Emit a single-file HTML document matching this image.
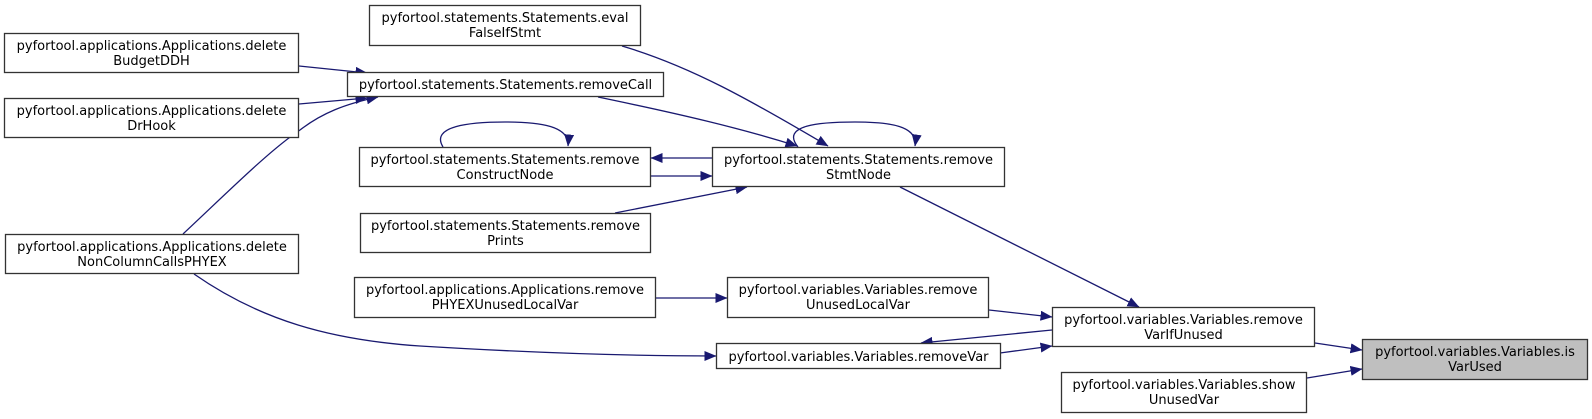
<!DOCTYPE html>
<html><head><meta charset="utf-8"><style>
html,body{margin:0;padding:0;background:#fff;}
svg{display:block;}
text{font-family:"DejaVu Sans","Liberation Sans",sans-serif;font-size:13px;fill:#000;text-anchor:middle;}
rect{fill:#fff;stroke:#333;stroke-width:1.3;}
.e{fill:none;stroke:#191970;stroke-width:1.3;}
</style></head><body>
<svg width="1592" height="419" viewBox="0 0 1592 419" xmlns="http://www.w3.org/2000/svg">
<defs>
<marker id="a" markerWidth="12" markerHeight="10" refX="11.5" refY="5" orient="auto" markerUnits="userSpaceOnUse">
<path d="M0,0 L12,5 L0,10 z" fill="#191970"/>
</marker>
</defs>

<path class="e" marker-end="url(#a)" d="M299,66 L367,73"/>
<path class="e" marker-end="url(#a)" d="M299,104 L367,98"/>
<path class="e" marker-end="url(#a)" d="M183,234 C230,190 270,150 300,130 C322,113 345,104 378,97"/>
<path class="e" marker-end="url(#a)" d="M598,97 C680,114 740,128 797,146"/>
<path class="e" marker-end="url(#a)" d="M622,46 C690,66 750,100 828,146"/>
<path class="e" marker-end="url(#a)" d="M798,147 C780,125 820,122 855,122 C890,122 918,126 915,146"/>
<path class="e" marker-end="url(#a)" d="M443,147 C430,126 470,122 505,122 C540,122 570,126 568,146"/>
<path class="e" marker-end="url(#a)" d="M712,158 L651,158"/>
<path class="e" marker-end="url(#a)" d="M651,176 L712,176"/>
<path class="e" marker-end="url(#a)" d="M615,213 L747,187"/>
<path class="e" marker-end="url(#a)" d="M900,187 L1139,307"/>
<path class="e" marker-end="url(#a)" d="M656,298 L727,298"/>
<path class="e" marker-end="url(#a)" d="M989,310 L1052,317"/>
<path class="e" marker-end="url(#a)" d="M1052,330 L921,343"/>
<path class="e" marker-end="url(#a)" d="M1000,353 L1052,346"/>
<path class="e" marker-end="url(#a)" d="M194,274 C260,320 330,340 420,346 C550,354 650,356 716,356"/>
<path class="e" marker-end="url(#a)" d="M1315,343 L1362,350"/>
<path class="e" marker-end="url(#a)" d="M1307,378 L1362,369"/>

<rect x="369.5" y="5.5" width="271" height="40"/>
<text x="505" y="22">pyfortool.statements.Statements.eval</text>
<text x="505" y="37">FalseIfStmt</text>

<rect x="4.5" y="33.5" width="294" height="39"/>
<text x="151.5" y="50">pyfortool.applications.Applications.delete</text>
<text x="151.5" y="65">BudgetDDH</text>

<rect x="347.5" y="72.5" width="316" height="24"/>
<text x="505.5" y="89">pyfortool.statements.Statements.removeCall</text>

<rect x="4.5" y="98.5" width="294" height="39"/>
<text x="151.5" y="115">pyfortool.applications.Applications.delete</text>
<text x="151.5" y="130">DrHook</text>

<rect x="359.5" y="147.5" width="291" height="39"/>
<text x="505" y="164">pyfortool.statements.Statements.remove</text>
<text x="505" y="179">ConstructNode</text>

<rect x="712.5" y="147.5" width="292" height="39"/>
<text x="858.5" y="164">pyfortool.statements.Statements.remove</text>
<text x="858.5" y="179">StmtNode</text>

<rect x="360.5" y="213.5" width="290" height="39"/>
<text x="505.5" y="230">pyfortool.statements.Statements.remove</text>
<text x="505.5" y="245">Prints</text>

<rect x="5.5" y="234.5" width="293" height="39"/>
<text x="152" y="251">pyfortool.applications.Applications.delete</text>
<text x="152" y="266">NonColumnCallsPHYEX</text>

<rect x="354.5" y="277.5" width="301" height="40"/>
<text x="505" y="294">pyfortool.applications.Applications.remove</text>
<text x="505" y="309">PHYEXUnusedLocalVar</text>

<rect x="727.5" y="277.5" width="261" height="40"/>
<text x="858" y="294">pyfortool.variables.Variables.remove</text>
<text x="858" y="309">UnusedLocalVar</text>

<rect x="1052.5" y="307.5" width="262" height="39"/>
<text x="1183.5" y="324">pyfortool.variables.Variables.remove</text>
<text x="1183.5" y="339">VarIfUnused</text>

<rect x="716.5" y="343.5" width="284" height="25"/>
<text x="858.5" y="361">pyfortool.variables.Variables.removeVar</text>

<rect x="1362.5" y="339.5" width="225" height="40" style="fill:#bfbfbf"/>
<text x="1475" y="356">pyfortool.variables.Variables.is</text>
<text x="1475" y="371">VarUsed</text>

<rect x="1061.5" y="372.5" width="245" height="40"/>
<text x="1184" y="389">pyfortool.variables.Variables.show</text>
<text x="1184" y="404">UnusedVar</text>
</svg>
</body></html>
